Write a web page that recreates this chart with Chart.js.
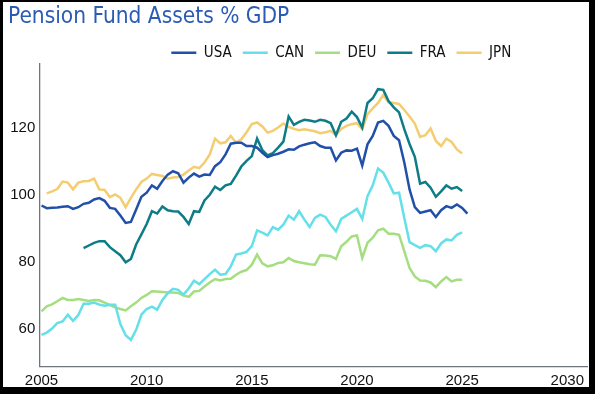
<!DOCTYPE html>
<html>
<head>
<meta charset="utf-8">
<script src="https://cdn.jsdelivr.net/npm/chart.js@4.4.1/dist/chart.umd.min.js"></script>
<style>
html, body { margin: 0; padding: 0; background: #000; }
#frame { position: absolute; left: 3px; top: 2px; width: 586px; height: 385px; background: #fff; }
</style>
</head>
<body>
<div id="frame"><canvas id="chart" width="586" height="385"></canvas></div>
<script>
// quarterly, first value = 2005 Q1
const countries = ['USA', 'CAN', 'DEU', 'FRA', 'JPN'];
const colors = ['#2150a8', '#66e0e8', '#a5de80', '#0e7c86', '#f3cd70'];

const usa = [96.8, 96.0, 96.1, 96.2, 96.4, 96.6, 95.8, 96.3, 97.3, 97.6,
    98.6, 99.0, 98.2, 96.1, 95.8, 93.8, 91.6, 91.9, 95.6, 99.4,
    100.6, 102.8, 101.8, 104.1, 106.0, 107.0, 106.4, 103.6, 105.1, 106.3,
    105.4, 106.0, 105.9, 108.5, 109.7, 112.0, 115.2, 115.5, 115.5, 114.5,
    114.5, 114.0, 112.5, 111.2, 111.8, 112.2, 112.8, 113.5, 113.4, 114.4,
    114.9, 115.3, 115.6, 114.5, 114.0, 114.0, 110.2, 112.5, 113.2, 113.1,
    113.7, 108.7, 115.0, 117.5, 121.5, 122.0, 120.5, 117.5, 116.2, 109.6,
    101.6, 96.3, 94.6, 95.0, 95.4, 93.4, 95.4, 96.6, 96.1, 97.1,
    96.1, 94.4];
const can = [58.3, 59.0, 60.2, 61.8, 62.3, 64.3, 62.5, 64.2, 67.6, 67.6,
    67.9, 67.3, 67.0, 67.3, 67.3, 61.5, 58.2, 56.8, 59.8, 64.3,
    66.0, 66.7, 65.8, 68.7, 70.7, 72.0, 71.7, 70.3, 72.1, 74.4,
    73.4, 74.9, 76.4, 77.7, 76.2, 76.4, 78.7, 82.2, 82.5, 83.0,
    84.7, 89.4, 88.7, 87.9, 90.4, 89.6, 91.1, 93.8, 92.6, 95.1,
    92.6, 90.4, 93.1, 94.1, 93.4, 91.1, 89.1, 92.8, 93.8, 94.8,
    95.8, 92.8, 99.6, 102.8, 107.8, 106.6, 103.6, 100.4, 100.6, 93.1,
    85.9, 85.0, 84.2, 85.0, 84.7, 83.2, 85.5, 86.7, 86.4, 88.1,
    88.8];
const deu = [65.3, 66.8, 67.4, 68.3, 69.3, 68.7, 68.7, 69.0, 68.7, 68.4,
    68.7, 68.6, 67.9, 67.2, 66.5, 66.0, 65.6, 66.8, 67.9, 69.3,
    70.2, 71.3, 71.2, 71.1, 70.9, 70.9, 70.8, 70.0, 69.6, 71.2,
    71.4, 72.7, 73.9, 74.9, 74.5, 74.9, 75.0, 76.2, 77.1, 77.6,
    79.2, 82.2, 79.6, 78.7, 79.0, 79.7, 79.9, 81.2, 80.3, 79.9,
    79.6, 79.3, 79.2, 82.0, 81.9, 81.7, 80.9, 84.7, 86.0, 87.6,
    87.9, 81.2, 85.7, 87.2, 89.4, 89.9, 88.4, 88.4, 88.1, 83.2,
    78.2, 75.7, 74.5, 74.4, 73.9, 72.5, 74.2, 75.5, 74.2, 74.7,
    74.7];
const fra = [null, null, null, null, null, null, null, null,
    84.1, 84.9, 85.7, 86.2, 86.2, 84.4, 83.2, 82.0, 79.9, 80.9,
    85.2, 88.2, 91.3, 95.1, 94.4, 96.5, 95.4, 95.1, 95.0, 93.4,
    91.3, 95.1, 94.9, 98.3, 100.0, 102.4, 101.4, 102.8, 103.2, 105.7,
    108.4, 110.1, 111.5, 116.7, 113.3, 111.7, 112.4, 114.0, 115.8, 123.3,
    120.8, 121.7, 122.3, 122.1, 121.7, 122.3, 122.0, 121.3, 117.7, 121.7,
    122.7, 124.7, 123.1, 120.0, 127.3, 128.7, 131.4, 131.2, 127.9, 126.0,
    124.5, 119.5, 115.1, 111.3, 103.3, 103.8, 102.1, 99.4, 101.0, 102.8,
    101.8, 102.3, 101.1];
const jpn = [null, 100.4, 101.0, 101.7, 103.9, 103.6, 101.6, 103.6, 104.0, 104.1,
    104.8, 101.6, 101.4, 99.3, 100.1, 99.1, 96.3, 99.1, 101.6, 103.8,
    104.8, 106.2, 105.9, 105.6, 104.8, 105.1, 105.3, 106.0, 107.2, 108.3,
    107.9, 109.6, 112.0, 116.7, 115.3, 115.6, 117.5, 115.5, 116.5, 118.6,
    121.0, 121.5, 120.3, 118.5, 119.0, 120.0, 121.2, 120.2, 119.6, 119.2,
    119.5, 119.2, 118.9, 118.3, 118.6, 119.0, 117.7, 119.6, 120.5, 121.0,
    121.3, 119.5, 124.0, 125.7, 127.3, 129.7, 127.5, 127.3, 127.0, 125.2,
    123.3, 121.2, 117.2, 117.7, 119.7, 116.0, 114.5, 116.7, 115.7, 113.5,
    112.3];

const xTicks = [2005, 2010, 2015, 2020, 2025, 2030];
const yTicks = [60, 80, 100, 120];

const narrow = "'DejaVu Sans Condensed', 'Liberation Sans Narrow', sans-serif";
const regular = "'Liberation Sans', Arial, sans-serif";
const axisColor = '#6e757c';

const series = [usa, can, deu, fra, jpn];
const toPoints = vals => vals.map((v, i) => ({ x: 2005 + i / 4, y: v }));

// legend sits lower and further left than chart.js would put it
const legendPlace = {
    id: 'legendPlace',
    afterLayout(chart) {
        const lg = chart.legend;
        lg.top += 6.3;
        lg.bottom += 6.3;
        lg.right -= 66;
    }
};

new Chart(document.getElementById('chart'), {
    type: 'line',
    data: {
        datasets: countries.map((name, i) => ({
            label: name,
            data: toPoints(series[i]),
            borderColor: colors[i],
            backgroundColor: colors[i],
            borderWidth: 2.5,
            pointRadius: 0,
            tension: 0,
            fill: false
        }))
    },
    options: {
        responsive: false,
        animation: false,
        layout: { padding: { left: 5, right: 0.7, top: 0, bottom: 0 } },
        plugins: {
            title: {
                display: true, text: 'Pension Fund Assets % GDP', align: 'start', color: '#2b5cb4',
                font: { family: narrow, size: 22.5, weight: 'normal', lineHeight: 1 },
                padding: { top: 3.45, bottom: 0.05 }
            },
            legend: {
                position: 'top', align: 'end',
                labels: {
                    usePointStyle: true, pointStyle: 'line', pointStyleWidth: 25, padding: 11,
                    color: '#111', font: { family: narrow, size: 15 }
                }
            },
            tooltip: { enabled: false }
        },
        scales: {
            x: {
                type: 'linear', min: 2004.895, max: 2030.974,
                grid: { display: false, drawTicks: false },
                border: { display: true, color: axisColor, width: 1.3 },
                ticks: { padding: 5, color: '#111', font: { family: regular, size: 15 }, maxRotation: 0, autoSkip: false, callback: v => String(v) },
                afterBuildTicks: s => { s.ticks = xTicks.map(v => ({ value: v })); },
                afterFit: s => { s.height = 20.3; }
            },
            y: {
                min: 48.84, max: 138.9,
                grid: { display: false, drawTicks: false },
                border: { display: true, color: axisColor, width: 1.3 },
                ticks: { padding: 4, color: '#111', font: { family: regular, size: 15 }, callback: v => String(v) },
                afterBuildTicks: s => { s.ticks = yTicks.map(v => ({ value: v })); },
                afterFit: s => { s.width = 31.3; }
            }
        }
    },
    plugins: [legendPlace]
});
</script>
</body>
</html>
